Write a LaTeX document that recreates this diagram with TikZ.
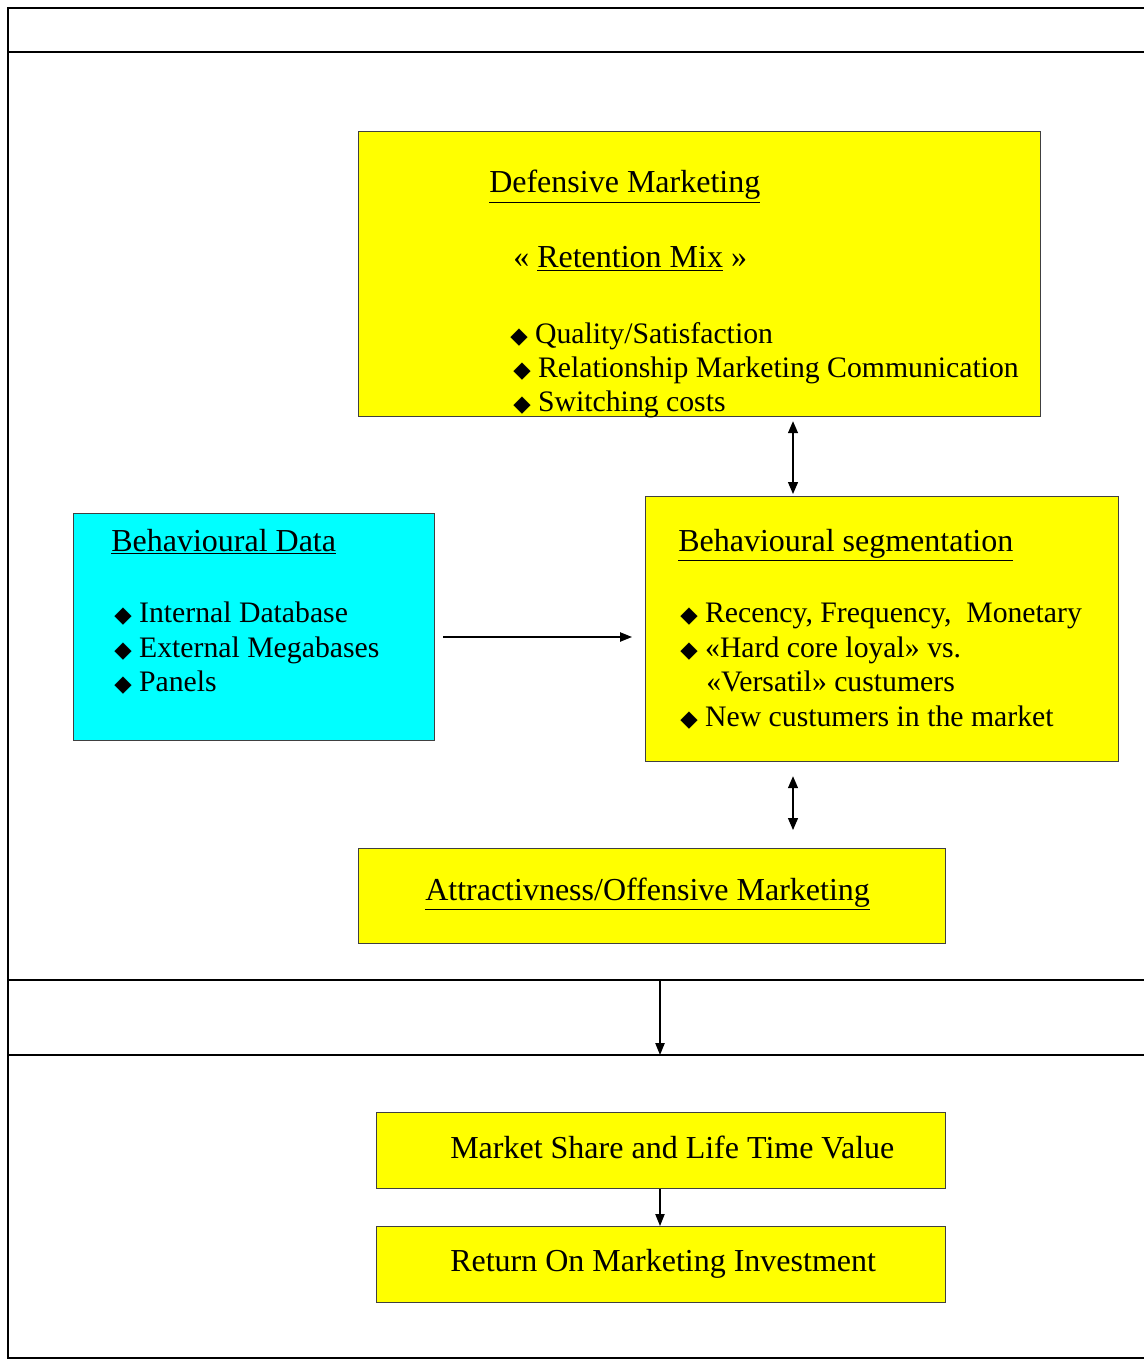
\documentclass[tikz,border=0pt]{standalone}
\usepackage{fontspec}
\setmainfont{Liberation Serif}
\newfontfamily\dvsans{DejaVu Sans}
\usetikzlibrary{arrows.meta}
\definecolor{yel}{RGB}{255,255,0}
\definecolor{cyn}{RGB}{0,255,255}
\newcommand{\bul}{{\dvsans\fontsize{17}{17}\selectfont ◆}}
\begin{document}
\begin{tikzpicture}[x=0.75pt,y=-0.75pt,
  box/.style={draw=black!75, line width=0.9pt, inner sep=0, anchor=north west},
  txt/.style={anchor=base west, inner sep=0, font=\fontsize{22.3}{26}\selectfont},
  head/.style={anchor=base west, inner sep=0, font=\fontsize{24}{28}\selectfont},
  arr/.style={line width=1pt, -{Triangle[length=9pt,width=7pt]}},
  darr/.style={line width=1pt, {Triangle[length=9pt,width=7.5pt]}-{Triangle[length=9pt,width=7.5pt]}},
  frameline/.style={line width=1.6pt}]
\useasboundingbox (0,0) rectangle (1144,1362);
% table frame
\draw[line width=1.2pt] (1144,8) -- (8,8) -- (8,52);
\draw[frameline] (1144,52) -- (8,52) -- (8,1358) -- (1144,1358);
\draw[frameline] (8,980) -- (1144,980);
\draw[frameline] (8,1055) -- (1144,1055);
\coordinate (f1) at (660,980);
\coordinate (f2) at (660,1055);
\coordinate (ax) at (793,0);
\coordinate (ay) at (0,637);
% boxes
\node[box, fill=yel, minimum width=511.5pt, minimum height=213.75pt] (def) at (358,131) {};
\node[box, fill=cyn, minimum width=270.75pt, minimum height=170.25pt] (data) at (73,513) {};
\node[box, fill=yel, minimum width=354.75pt, minimum height=198.75pt] (seg) at (645,496) {};
\node[box, fill=yel, minimum width=440.25pt, minimum height=71.25pt] (att) at (358,848) {};
\node[box, fill=yel, minimum width=426.75pt, minimum height=57pt] (ms) at (376,1112) {};
\node[box, fill=yel, minimum width=426.75pt, minimum height=57pt] (roi) at (376,1226) {};
% defensive text
\node[head] (t1) at (489,193) {\underline{Defensive Marketing}};
\node[head] (t2) at (513,268) {« \underline{Retention Mix} »};
\node[txt] (t3) at (510,343) {\bul\ Quality/Satisfaction};
\node[txt] (t4) at (513,377) {\bul\ Relationship Marketing Communication};
\node[txt] (t5) at (513,411) {\bul\ Switching costs};
% data text
\node[head] (d1) at (111,551) {\underline{Behavioural Data}};
\node[txt] (d2) at (114,622) {\bul\ Internal Database};
\node[txt] (d3) at (114,657) {\bul\ External Megabases};
\node[txt] (d4) at (114,691) {\bul\ Panels};
% segmentation text
\node[head] (s1) at (678,551) {\underline{Behavioural segmentation}};
\node[txt] (s2) at (680,622) {\bul\ Recency, Frequency,\ \ Monetary};
\node[txt] (s3) at (680,657) {\bul\ «Hard core loyal» vs.};
\node[txt] (s4) at (706,691) {«Versatil» custumers};
\node[txt] (s5) at (680,726) {\bul\ New custumers in the market};
% other text
\node[head] (a1) at (425,900) {\underline{Attractivness/Offensive Marketing}};
\node[head] (m1) at (450,1158) {Market Share and Life Time Value};
\node[head] (r1) at (450,1271) {Return On Marketing Investment};
% connectors
\draw[darr, shorten <=3pt, shorten >=1.5pt] (def.south -| ax) -- (seg.north -| ax);
\draw[darr, shorten <=10.5pt, shorten >=13.5pt] (seg.south -| ax) -- (att.north -| ax);
\draw[arr, shorten <=6pt, shorten >=9.75pt] (data.east |- ay) -- (seg.west |- ay);
\draw[arr] (f1) -- (f2);
\draw[arr, line width=0.9pt] (ms.south -| f1) -- (roi.north -| f1);
\end{tikzpicture}
\end{document}
